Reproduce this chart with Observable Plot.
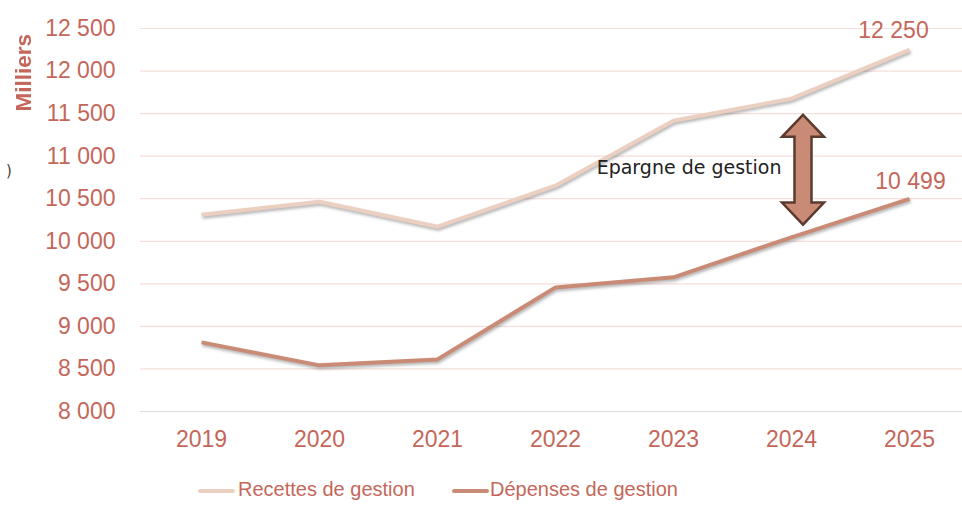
<!DOCTYPE html>
<html>
<head>
<meta charset="utf-8">
<script src="https://cdn.jsdelivr.net/npm/d3@7"></script>
<script src="https://cdn.jsdelivr.net/npm/@observablehq/plot@0.6"></script>
<style>
  html, body { margin: 0; padding: 0; background: #fff; }
  #wrap { position: relative; width: 962px; height: 506px; font-family: "Liberation Sans", Arial, sans-serif; }
  #legend { position: absolute; left: 0; top: 470px; width: 962px; height: 36px; }
  .lg { position: absolute; top: 7px; font-size: 20px; color: #C4675A; white-space: nowrap; line-height: 24px; }
  .sw { position: absolute; top: 19px; width: 37px; height: 4px; border-radius: 2px; }
  #ylab { position: absolute; left: 11px; top: 34px; font-size: 22.5px; font-weight: bold; color: #C4675A;
          writing-mode: vertical-rl; transform: rotate(180deg); }
  #stray { position: absolute; left: 6px; top: 162px; font-size: 15px; color: #444; font-family: "DejaVu Sans", sans-serif; }
  svg g[aria-label="line"] path { filter: drop-shadow(1px 2px 1.5px rgba(0,0,0,0.3)); }
</style>
</head>
<body>
<div id="wrap">
  <div id="chart"></div>
  <div id="ylab">Milliers</div>
  <div id="stray">)</div>
  <div id="legend"></div>
</div>
<script>
const years = ["2019", "2020", "2021", "2022", "2023", "2024", "2025"];
const recettes = [10312, 10465, 10171, 10653, 11416, 11675, 12250];
const depenses = [8812, 8542, 8612, 9458, 9576, 10047, 10499];
const yTicks = [8000, 8500, 9000, 9500, 10000, 10500, 11000, 11500, 12000, 12500];
const seriesNames = ["Recettes de gestion", "Dépenses de gestion"];
const seriesColors = ["#EBCFC0", "#C98B76"];
const annotationText = "Epargne de gestion";
const arrowYear = "2024";
const arrowTop = 11480;
const arrowBottom = 10190;
const annotationY = 10859;

const fr = d3.formatLocale({decimal: ",", thousands: " ", grouping: [3], currency: ["", " €"]});
const fmt = fr.format(",");

const rows = [];
years.forEach((y, i) => {
  rows.push({year: y, value: recettes[i], series: seriesNames[0]});
  rows.push({year: y, value: depenses[i], series: seriesNames[1]});
});
const lastR = [{year: years[6], value: recettes[6]}];
const lastD = [{year: years[6], value: depenses[6]}];

const textColor = "#C4675A";

function arrowMark(index, scales) {
  const cx = scales.x(arrowYear) + 12;
  const yt = scales.y(arrowTop), yb = scales.y(arrowBottom);
  const hw = 21, sw = 8.5, hh = 22;
  const pts = [[cx, yt], [cx + hw, yt + hh], [cx + sw, yt + hh], [cx + sw, yb - hh], [cx + hw, yb - hh],
               [cx, yb], [cx - hw, yb - hh], [cx - sw, yb - hh], [cx - sw, yt + hh], [cx - hw, yt + hh]];
  const g = d3.create("svg:g");
  g.append("path")
    .attr("d", "M" + pts.map(p => p.join(",")).join("L") + "Z")
    .attr("fill", "#C98B76")
    .attr("stroke", "#5B3B2F")
    .attr("stroke-width", 2.5)
    .attr("stroke-linejoin", "miter");
  return g.node();
}

const chart = Plot.plot({
  width: 962,
  height: 460,
  marginLeft: 140,
  marginRight: 0,
  marginTop: 28,
  marginBottom: 49,
  style: {fontFamily: "Liberation Sans, Arial, sans-serif", background: "#fff"},
  x: {type: "point", domain: years, range: [199, 910], padding: 0, label: null},
  y: {domain: [8000, 12500], label: null},
  marks: [
    Plot.ruleY(yTicks.slice(1), {stroke: "#F7DEDC", strokeWidth: 1.2}),
    Plot.ruleY([8000], {stroke: "#E2DADA", strokeWidth: 1}),
    Plot.axisY({ticks: yTicks, tickSize: 0, tickPadding: 25, tickFormat: fmt, fontSize: 23, color: textColor, label: null}),
    Plot.axisX({tickSize: 0, tickPadding: 19, fontSize: 23, color: textColor, label: null}),
    Plot.line(rows, {x: "year", y: "value", z: "series", stroke: "series", strokeWidth: 4, strokeLinecap: "butt", strokeLinejoin: "round"}),
    Plot.text(lastR, {x: "year", y: "value", text: d => fmt(d.value), dx: -16, dy: -19, fontSize: 23, fill: textColor}),
    Plot.text(lastD, {x: "year", y: "value", text: d => fmt(d.value), dx: 1, dy: -17, fontSize: 23, fill: textColor}),
    Plot.text([annotationText], {x: () => arrowYear, y: () => annotationY, text: d => d, textAnchor: "end", dx: -10, fontSize: 19, fontFamily: "DejaVu Sans, sans-serif", fill: "#222"}),
    arrowMark
  ],
  color: {domain: seriesNames, range: seriesColors}
});
document.getElementById("chart").appendChild(chart);

const legend = document.getElementById("legend");
const legendPos = [[198, 238], [452, 490]];
seriesNames.forEach((name, i) => {
  const sw = document.createElement("div");
  sw.className = "sw";
  sw.style.left = legendPos[i][0] + "px";
  sw.style.background = seriesColors[i];
  legend.appendChild(sw);
  const t = document.createElement("div");
  t.className = "lg";
  t.style.left = legendPos[i][1] + "px";
  t.textContent = name;
  legend.appendChild(t);
});
</script>
</body>
</html>
